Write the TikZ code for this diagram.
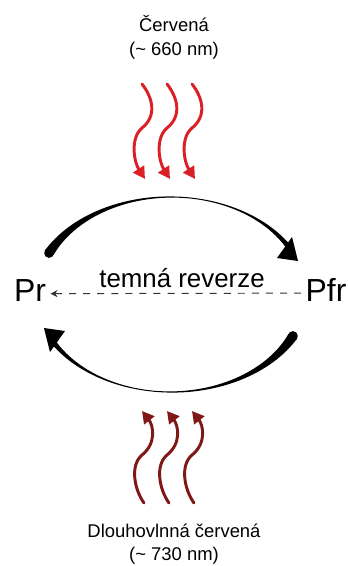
\documentclass[tikz,border=0pt]{standalone}
\usepackage{fontspec}
\setmainfont{Liberation Sans}
\usetikzlibrary{arrows.meta}
\definecolor{redlight}{RGB}{218,32,38}
\definecolor{reddark}{RGB}{128,24,22}

\begin{document}
\begin{tikzpicture}[x=0.025cm, y=-0.025cm,
    lbl/.style={font=\fontsize{13.1}{16}\selectfont, anchor=base, inner sep=0pt},
    form/.style={font=\fontsize{22.7}{26}\selectfont, anchor=base, inner sep=0pt},
    wave/.style={line width=2.1pt, line cap=round}]
  \useasboundingbox (0,0) rectangle (348,566);

  % light labels
  \node[lbl] (red) at (174,31) {Červená};
  \node[lbl] (rednm) at (174,55) {(\textasciitilde{} 660 nm)};
  \node[lbl] (far) at (174,537) {Dlouhovlnná červená};
  \node[lbl] (farnm) at (174,560) {(\textasciitilde{} 730 nm)};

  % the two forms
  \node[form] (Pr) at (30,301) {Pr};
  \node[form] (Pfr) at (326,301) {Pfr};
  \node[lbl, font=\fontsize{18.4}{22}\selectfont] (dark) at (182,287) {temná reverze};
  \draw[line width=0.7pt, black!80, dash pattern=on 5pt off 5pt, shorten <=3pt, shorten >=3pt,
        -{Stealth[length=5pt,width=5pt]}]
    ([yshift=-2.6pt]Pfr.west) -- ([yshift=-2.6pt]Pr.east);

  % wavy light
  \foreach \i in {0,1,2} {
    \begin{scope}[shift={({142+25*\i},84)}]
      \draw[wave, redlight, -{Triangle[length=8.5pt,width=9pt]}]
        (0,0) .. controls (11,14) and (15,32) .. (0,44)
        .. controls (-12,54) and (-8,78) .. (3,95);
    \end{scope}
    \begin{scope}[shift={({142+25*\i},411)}]
      \draw[wave, reddark, {Triangle[length=8.5pt,width=9pt]}-]
        (0,0) .. controls (11,14) and (15,32) .. (0,44)
        .. controls (-12,54) and (-8,78) .. (2,92);
    \end{scope}
  }

  % the two swooshes
  \foreach \r in {0,180} {
    \begin{scope}[rotate around={\r:(171,294.5)}]
      \fill plot[domain=154.6:30, samples=60]
          ({171+(135+0.5*(1+0.0016*(\x-80)^2))*cos(\x)}, {295-(98+0.5*(1+0.0016*(\x-80)^2))*sin(\x)})
        -- plot[domain=30:154.6, samples=60]
          ({171+(135-0.5*(1+0.0016*(\x-80)^2))*cos(\x)}, {295-(98-0.5*(1+0.0016*(\x-80)^2))*sin(\x)})
        -- cycle;
      \fill (49.1,253) circle (4.9);
      \fill (298,261) -- (292,237) -- (277,258) -- cycle;
    \end{scope}
  }
\end{tikzpicture}
\end{document}
